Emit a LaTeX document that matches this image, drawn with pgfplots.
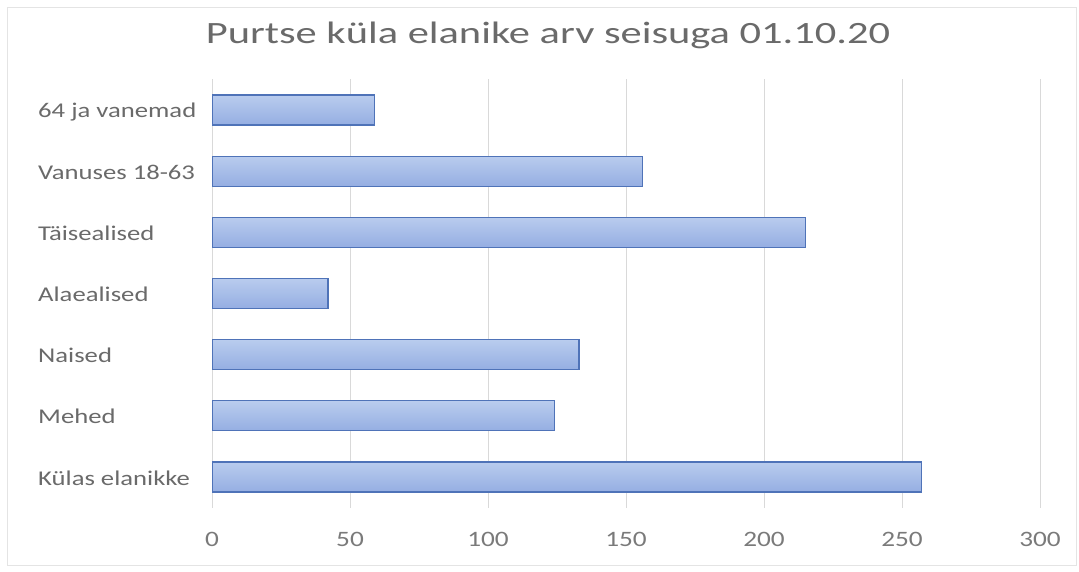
\documentclass[border=0pt]{standalone}
\usepackage{fontspec}
\setmainfont[FakeStretch=1.27]{Carlito}
\newfontfamily\titlefont[FakeStretch=1.37]{Carlito}
\newfontfamily\tickfont[FakeStretch=1.24]{Carlito}
\usepackage{pgfplots}
\pgfplotsset{compat=1.18}
\definecolor{txtgray}{HTML}{6A6A6A}
\definecolor{tickgray}{HTML}{7A7A7A}
\definecolor{gridgray}{HTML}{D9D9D9}
\definecolor{bartop}{HTML}{B9CCEE}
\definecolor{barbot}{HTML}{95AEE2}
\definecolor{baredge}{HTML}{4F73B8}
\pgfplotsset{mybar/.style={xbar, bar width=30pt, bar shift=0pt, top color=bartop, bottom color=barbot, draw=baredge, line width=1.2pt, forget plot}}
\begin{document}
\begin{tikzpicture}[x=1pt,y=1pt]
\useasboundingbox (0,0) rectangle (1079,-572);
\draw[gridgray!70, line width=1pt] (7,-8) rectangle (1076,-565);
\begin{axis}[
  at={(212pt,-507.6pt)}, anchor=south west,
  scale only axis, width=828pt, height=428.2pt,
  xmin=0, xmax=300, ymin=-0.5, ymax=6.5,
  xtick={0,50,...,300},
  ytick={0,...,6},
  yticklabels={Külas elanikke,Mehed,Naised,Alaealised,Täisealised,Vanuses 18-63,64 ja vanemad},
  /pgf/number format/assume math mode=true,
  xmajorgrids, grid style={gridgray, line width=1pt},
  axis line style={draw=none},
  major tick length=0pt,
  xticklabel style={font=\tickfont\fontsize{22}{24}\selectfont, text=tickgray, anchor=base, yshift=-38.4pt, inner sep=0pt},
  yticklabel style={font=\fontsize{21}{24}\selectfont, text=txtgray, anchor=base west, xshift=-174pt, yshift=-8pt, inner sep=0pt},
]
\addplot[mybar] coordinates {(257,0)};
\addplot[mybar] coordinates {(124,1)};
\addplot[mybar] coordinates {(133,2)};
\addplot[mybar] coordinates {(42,3)};
\addplot[mybar] coordinates {(215,4)};
\addplot[mybar] coordinates {(156,5)};
\addplot[mybar] coordinates {(59,6)};
\end{axis}
\node[anchor=base, text=txtgray, font=\titlefont\fontsize{31}{34}\selectfont, inner sep=0pt] at (548,-44) {Purtse küla elanike arv seisuga 01.10.20};
\end{tikzpicture}
\end{document}
